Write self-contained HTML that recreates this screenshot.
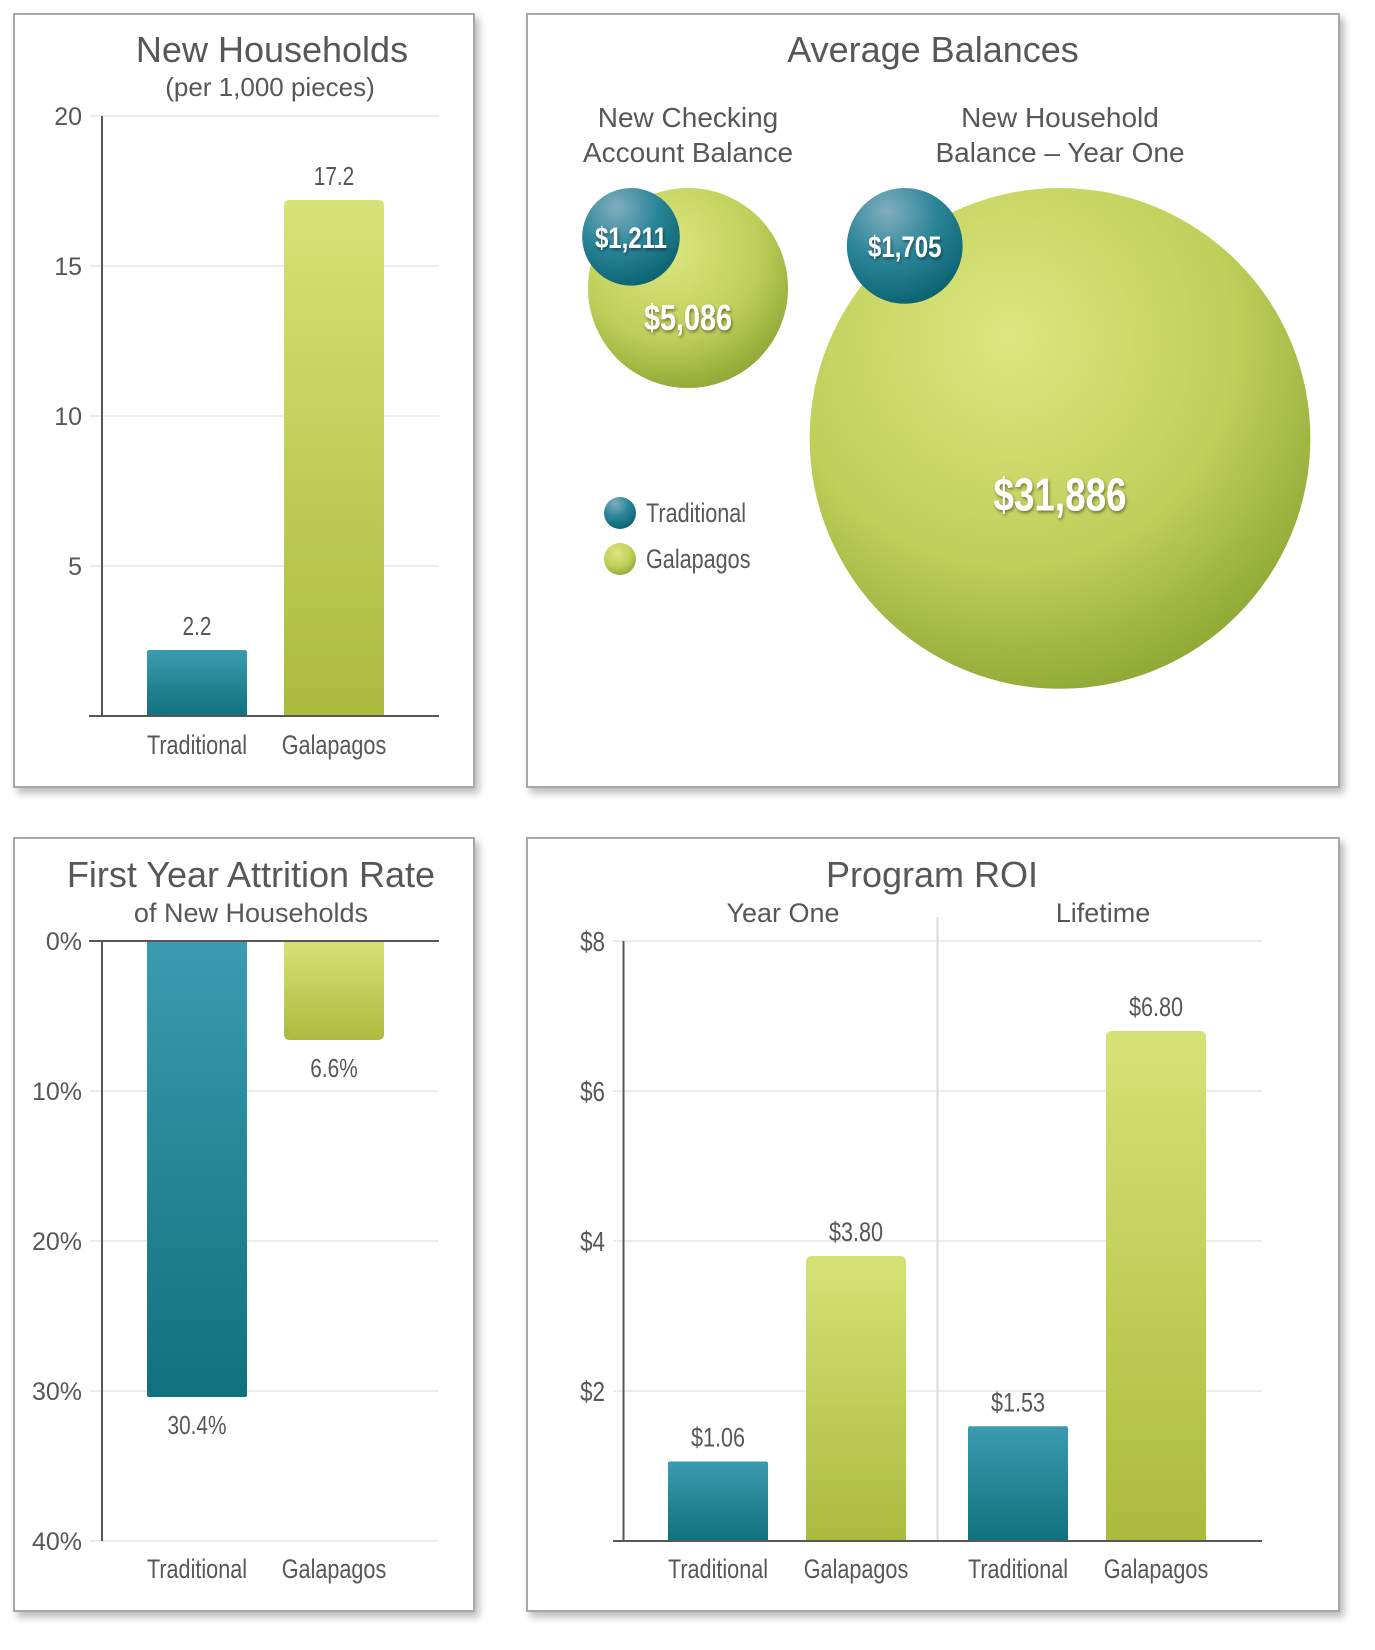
<!DOCTYPE html>
<html><head><meta charset="utf-8"><style>
html,body{margin:0;padding:0;background:#fff;}
svg{display:block;}
.t{font-family:"Liberation Sans",sans-serif;fill:#5a5557;}
.n{font-family:"Liberation Sans",sans-serif;fill:#5a5557;}
</style></head><body>
<svg id="c" width="1375" height="1650" viewBox="0 0 1375 1650" xmlns="http://www.w3.org/2000/svg">
<defs>
<filter id="sh" x="-5%" y="-5%" width="115%" height="115%"><feDropShadow dx="4" dy="5" stdDeviation="4" flood-color="#000" flood-opacity="0.28"/></filter>
<linearGradient id="gT" x1="0" y1="0" x2="0" y2="1"><stop offset="0" stop-color="#3b9bb1"/><stop offset="1" stop-color="#10717e"/></linearGradient>
<linearGradient id="gG" x1="0" y1="0" x2="0" y2="1"><stop offset="0" stop-color="#d6e276"/><stop offset="1" stop-color="#abbb3e"/></linearGradient>
<radialGradient id="rG" cx="0.4" cy="0.3" r="0.75"><stop offset="0" stop-color="#dce67f"/><stop offset="0.6" stop-color="#bfcf5a"/><stop offset="1" stop-color="#8ca532"/></radialGradient>
<radialGradient id="rT" cx="0.35" cy="0.2" r="0.85"><stop offset="0" stop-color="#82aebe"/><stop offset="0.5" stop-color="#2a8598"/><stop offset="1" stop-color="#0a6270"/></radialGradient>
<filter id="ts"><feDropShadow dx="1" dy="2" stdDeviation="1.5" flood-color="#000" flood-opacity="0.45"/></filter>
</defs>
<g>
<rect x="14" y="14" width="460" height="773" fill="#fff" stroke="#aaa5a7" stroke-width="2" filter="url(#sh)"/>
<rect x="527" y="14" width="812" height="773" fill="#fff" stroke="#aaa5a7" stroke-width="2" filter="url(#sh)"/>
<rect x="14" y="838" width="460" height="773" fill="#fff" stroke="#aaa5a7" stroke-width="2" filter="url(#sh)"/>
<rect x="527" y="838" width="812" height="773" fill="#fff" stroke="#aaa5a7" stroke-width="2" filter="url(#sh)"/>
</g>
<text class="t" x="272" y="62" font-size="36" text-anchor="middle">New Households</text>
<text class="t" x="270" y="96" font-size="26" text-anchor="middle">(per 1,000 pieces)</text>
<text class="t" x="933" y="62" font-size="36" text-anchor="middle">Average Balances</text>
<text class="t" x="688" y="127" font-size="28" text-anchor="middle">New Checking</text>
<text class="t" x="688" y="162" font-size="28" text-anchor="middle">Account Balance</text>
<text class="t" x="1060" y="127" font-size="28" text-anchor="middle">New Household</text>
<text class="t" x="1060" y="162" font-size="28" text-anchor="middle">Balance – Year One</text>
<text class="t" x="251" y="887" font-size="36" text-anchor="middle">First Year Attrition Rate</text>
<text class="t" x="251" y="922" font-size="27" text-anchor="middle">of New Households</text>
<text class="t" x="932" y="887" font-size="36" text-anchor="middle">Program ROI</text>
<text class="t" x="783" y="922" font-size="27" text-anchor="middle">Year One</text>
<text class="t" x="1103" y="922" font-size="27" text-anchor="middle">Lifetime</text>
<g id="g1"></g><g id="g2"></g><g id="g3"></g><g id="g4"></g>
</svg>
<script>
// Chart 1: New Households
const c1Cats = ["Traditional", "Galapagos"];
const c1Vals = [2.2, 17.2];
const c1Labels = ["2.2", "17.2"];
const c1Ticks = [5, 10, 15, 20];
// Chart 2: Average Balances
const c2Groups = ["New Checking Account Balance", "New Household Balance – Year One"];
const c2Galapagos = [5086, 31886];
const c2Traditional = [1211, 1705];
const c2GalLabels = ["$5,086", "$31,886"];
const c2TradLabels = ["$1,211", "$1,705"];
// Chart 3: Attrition
const c3Cats = ["Traditional", "Galapagos"];
const c3Vals = [30.4, 6.6];
const c3Labels = ["30.4%", "6.6%"];
const c3Ticks = [0, 10, 20, 30, 40];
const c3TickLabels = ["0%", "10%", "20%", "30%", "40%"];
// Chart 4: ROI
const c4Cats = ["Traditional", "Galapagos", "Traditional", "Galapagos"];
const c4Vals = [1.06, 3.80, 1.53, 6.80];
const c4Labels = ["$1.06", "$3.80", "$1.53", "$6.80"];
const c4Ticks = [2, 4, 6, 8];
const c4TickLabels = ["$2", "$4", "$6", "$8"];

const NS = "http://www.w3.org/2000/svg";
function mk(parent, tag, attrs, txt) {
  const e = document.createElementNS(NS, tag);
  for (const k in attrs) e.setAttribute(k, attrs[k]);
  if (txt !== undefined) e.textContent = txt;
  parent.appendChild(e);
  return e;
}
function barPath(x, y0, y1, w, r) {
  const dir = y1 < y0 ? 1 : -1;
  r = Math.min(r, Math.abs(y1 - y0) / 2);
  return `M${x},${y0} L${x},${y1 + dir * r} Q${x},${y1} ${x + r},${y1} L${x + w - r},${y1} Q${x + w},${y1} ${x + w},${y1 + dir * r} L${x + w},${y0} Z`;
}

// ---------- Chart 1 ----------
(function () {
  const g = document.getElementById("g1");
  const y = v => 716 - v * 30;
  const xs = [147, 284], w = 100;
  c1Ticks.forEach((t, i) => {
    const gl = mk(g, "line", { x1: 90, x2: 439, y1: y(t), y2: y(t), stroke: "#ececec", "stroke-width": 2 });
    
    
    const tl = mk(g, "text", { class: "t", x: 82, y: y(t) + 9, "font-size": 25, "text-anchor": "end" }, String(t));
    
    
  });
  c1Vals.forEach((v, i) => {
    const b = mk(g, "path", { d: barPath(xs[i], y(0), y(v), w, i === 1 ? 6 : 2), fill: i === 0 ? "url(#gT)" : "url(#gG)" });
    
    
    const l = mk(g, "text", { class: "n", x: xs[i] + w / 2, y: y(v) - 15, "font-size": 26, "text-anchor": "middle" }, c1Labels[i]);
    
    
    const c = mk(g, "text", { class: "n", x: xs[i] + w / 2, y: 754, "font-size": 27, "text-anchor": "middle" }, c1Cats[i]);
    
    
  });
  const ax = mk(g, "line", { x1: 102, x2: 102, y1: 116, y2: 716, stroke: "#5a5557", "stroke-width": 2 });
  
  
  const bl = mk(g, "line", { x1: 89, x2: 439, y1: 716, y2: 716, stroke: "#5a5557", "stroke-width": 2 });
  
  
})();

// ---------- Chart 2 ----------
(function () {
  const g = document.getElementById("g2");
  const k = 100 / Math.sqrt(5086);
  const rad = v => k * Math.sqrt(v);
  const gcx = [688, 1060];
  const top = 188;
  c2Galapagos.forEach((v, i) => {
    const R = rad(v);
    const cy = top + R;
    const c = mk(g, "circle", { cx: gcx[i], cy: cy, r: R, fill: "url(#rG)" });
    
    
    const rt = rad(c2Traditional[i]);
    const tcx = i === 0 ? gcx[i] - R * 0.57 : gcx[i] - R * 0.62;
    const tcy = top + rt;
    const tc = mk(g, "circle", { cx: tcx, cy: tcy, r: rt, fill: "url(#rT)" });
    
    
    const fs = i === 0 ? 36 : 46;
    const gl = mk(g, "text", { class: "n", x: gcx[i], y: i === 0 ? cy + 42 : cy + 72, "font-size": fs, "font-weight": "bold", "text-anchor": "middle", style: "fill:#fff", filter: "url(#ts)" }, c2GalLabels[i]);
    
    
    const tl = mk(g, "text", { class: "n", x: tcx, y: tcy + 11, "font-size": 30, "font-weight": "bold", "text-anchor": "middle", style: "fill:#fff", filter: "url(#ts)" }, c2TradLabels[i]);
    
    
  });
  const lg = [["Traditional", "url(#rT)", 513], ["Galapagos", "url(#rG)", 559]];
  lg.forEach(e => {
    const c = mk(g, "circle", { cx: 620, cy: e[2], r: 16, fill: e[1] });
    
    
    const t = mk(g, "text", { class: "n", x: 646, y: e[2] + 9, "font-size": 27 }, e[0]);
    
    
  });
})();

// ---------- Chart 3 ----------
(function () {
  const g = document.getElementById("g3");
  const y = v => 941 + v * 15;
  const xs = [147, 284], w = 100;
  c3Ticks.forEach((t, i) => {
    if (i > 0) {
      const gl = mk(g, "line", { x1: 90, x2: 439, y1: y(t), y2: y(t), stroke: "#ececec", "stroke-width": 2 });
      
      
    }
    const tl = mk(g, "text", { class: "t", x: 82, y: y(t) + 9, "font-size": 25, "text-anchor": "end" }, c3TickLabels[i]);
    
    
  });
  c3Vals.forEach((v, i) => {
    const b = mk(g, "path", { d: barPath(xs[i], y(0), y(v), w, i === 1 ? 6 : 2), fill: i === 0 ? "url(#gT)" : "url(#gG)" });
    
    
    const l = mk(g, "text", { class: "n", x: xs[i] + w / 2, y: y(v) + 37, "font-size": 26, "text-anchor": "middle" }, c3Labels[i]);
    
    
    const c = mk(g, "text", { class: "n", x: xs[i] + w / 2, y: 1578, "font-size": 27, "text-anchor": "middle" }, c3Cats[i]);
    
    
  });
  const ax = mk(g, "line", { x1: 102, x2: 102, y1: 941, y2: 1541, stroke: "#5a5557", "stroke-width": 2 });
  
  
  const bl = mk(g, "line", { x1: 89, x2: 439, y1: 941, y2: 941, stroke: "#5a5557", "stroke-width": 2 });
  
  
})();

// ---------- Chart 4 ----------
(function () {
  const g = document.getElementById("g4");
  const y = v => 1541 - v * 75;
  const xs = [668, 806, 968, 1106], w = 100;
  c4Ticks.forEach((t, i) => {
    const gl = mk(g, "line", { x1: 613, x2: 1262, y1: y(t), y2: y(t), stroke: "#ececec", "stroke-width": 2 });
    
    
    const tl = mk(g, "text", { class: "n", x: 605, y: y(t) + 10, "font-size": 28, "text-anchor": "end" }, c4TickLabels[i]);
    
    
  });
  const dv = mk(g, "line", { x1: 937.5, x2: 937.5, y1: 917, y2: 1541, stroke: "#dcdcdc", "stroke-width": 2 });
  
  
  c4Vals.forEach((v, i) => {
    const gal = c4Cats[i] === "Galapagos";
    const b = mk(g, "path", { d: barPath(xs[i], y(0), y(v), w, gal ? 6 : 2), fill: gal ? "url(#gG)" : "url(#gT)" });
    
    
    const l = mk(g, "text", { class: "n", x: xs[i] + w / 2, y: y(v) - 15, "font-size": 27, "text-anchor": "middle" }, c4Labels[i]);
    
    
    const c = mk(g, "text", { class: "n", x: xs[i] + w / 2, y: 1578, "font-size": 27, "text-anchor": "middle" }, c4Cats[i]);
    
    
  });
  const ax = mk(g, "line", { x1: 623.5, x2: 623.5, y1: 941, y2: 1541, stroke: "#5a5557", "stroke-width": 2 });
  
  
  const bl = mk(g, "line", { x1: 613, x2: 1262, y1: 1541, y2: 1541, stroke: "#5a5557", "stroke-width": 2 });
  
  
})();

// condense narrow-style labels
document.querySelectorAll("text.n").forEach(t => {
  const L = t.getComputedTextLength();
  if (L > 0) {
    t.setAttribute("textLength", (L * 0.8).toFixed(1));
    t.setAttribute("lengthAdjust", "spacingAndGlyphs");
  }
});
</script>
</body></html>
